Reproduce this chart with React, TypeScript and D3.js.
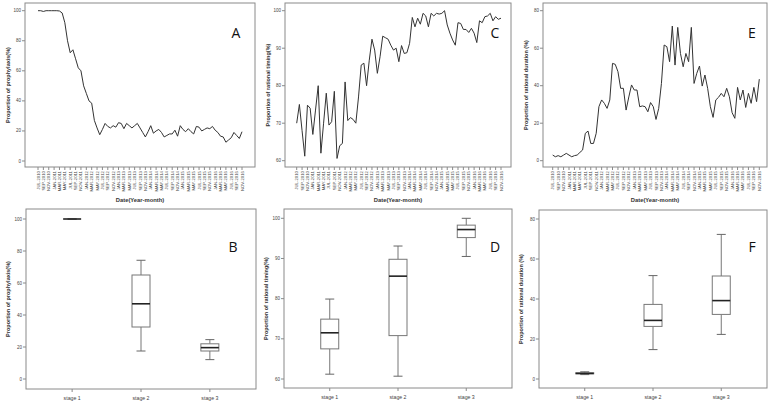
import React from 'react';
import * as d3 from 'd3';

const xTickLabels = ["JUL-2010","SEP-2010","NOV-2010","JAN-2011","MAR-2011","MAY-2011","JUL-2011","SEP-2011","NOV-2011","JAN-2012","MAR-2012","MAY-2012","JUL-2012","SEP-2012","NOV-2012","JAN-2013","MAR-2013","MAY-2013","JUL-2013","SEP-2013","NOV-2013","JAN-2014","MAR-2014","MAY-2014","JUL-2014","SEP-2014","NOV-2014","JAN-2015","MAR-2015","MAY-2015","JUL-2015","SEP-2015","NOV-2015","JAN-2016","MAR-2016","MAY-2016","JUL-2016","SEP-2016","NOV-2016"];

const prophylaxis = [100,100,99.5,100,100,100,100,100,99.8,98.5,
  92,80,72,74,68,62,60,50,45,40,
  38.5,27,22,17.5,21,25,23,22,23.5,22.5,
  25.5,25,21.5,25,23.5,22,23.5,25,22,19,
  16,19.5,23.5,18.5,20,21,19,16,17,18,
  18,20.5,16.5,23.5,21,19.5,21.5,19.5,18,23,
  22.5,20,21,22,21.5,23,20.5,19,16.5,16,
  12.5,14,15.5,19,17,15,19.5];

const timing = [70,75,68,61.2,74.8,74,67,73.5,80,62,
  70,78,69.5,70.4,78.5,60.6,64,64.6,81,70.7,
  71.5,71,70,77,85.5,86,80,86.8,92.4,89.5,
  83.3,87.7,93.2,92.8,92.4,90.8,89.5,90,86.4,90.7,
  88.6,88.8,91.3,98.2,95.7,98,96.4,99.3,98.6,95.7,
  99.3,98.6,99.3,99.1,99.3,100,96.2,94,92.2,90.8,
  96.8,96.6,95,95,94.2,95.3,94,91.5,97.3,96.8,
  98.4,98.6,99.3,97.3,98.4,97.7,98];

const duration = [3,2.1,2.7,2.1,3,3.9,3,2.1,2.7,3,
  4.4,5.7,14.6,15.8,9.2,9.2,14.6,28.8,32.4,30.6,
  27.9,32.4,51.9,51.4,47.5,38.6,38.6,27,34,40.4,
  37.7,37.7,28.8,29.2,28.8,26.1,31,28.8,22,27.9,
  41.2,61.7,60.8,52.8,71.8,51,71.1,57.2,50.1,57.2,
  52.8,71.1,41.2,46.6,50.5,39.8,45.7,38.6,28.8,23.1,
  32.4,33.8,35.9,34.1,38.6,34.1,25.6,22.6,39.1,32.4,
  37.7,28.4,35.9,30.6,39.1,31.5,43.5];

const stages = ["stage 1", "stage 2", "stage 3"];
// [min, q1, median, q3, max]
const prophylaxisBox = [[100,100,100,100,100],[17.5,32.5,47,65,74.2],[12.1,17.5,19.6,22,24.6]];
const timingBox = [[61.2,67.5,71.5,74.9,79.9],[60.7,70.8,85.6,89.8,93.1],[90.5,95.2,97.2,98.3,100]];
const durationBox = [[2.2,2.6,2.8,3.1,3.6],[14.7,26.3,29.3,37.3,51.7],[22.3,32.3,39.2,51.5,72.3]];

const FONT = "'Liberation Sans', Arial, sans-serif";
const FRAME = "#8a8a8a";
const TXT = "#444";

type LineProps = {
  frame: [number, number, number, number];
  dataX: [number, number];
  yDom: [number, number];
  yPx: [number, number];
  yTicks: number[];
  values: number[];
  yTitle: string;
  letter: string;
  letterPos: [number, number];
};

function LinePanel(p: LineProps) {
  const [l, t, r, b] = p.frame;
  const x = d3.scaleLinear().domain([0, p.values.length - 1]).range(p.dataX);
  const y = d3.scaleLinear().domain(p.yDom).range(p.yPx);
  const line = d3.line<number>().x((_, i) => x(i)).y(v => y(v));
  return (
    <g>
      <rect x={l} y={t} width={r - l} height={b - t} fill="white" stroke={FRAME} strokeWidth={1} />
      {p.yTicks.map(v => (
        <g key={v}>
          <line x1={l - 3} x2={l} y1={y(v)} y2={y(v)} stroke={FRAME} />
          <text x={l - 4} y={y(v) + 1.5} fontSize={4.5} textAnchor="end" fill={TXT} fontFamily={FONT}>{v}</text>
        </g>
      ))}
      {xTickLabels.map((lab, k) => {
        const xx = x(k * 2);
        return (
          <g key={lab}>
            <line x1={xx} x2={xx} y1={b} y2={b + 3} stroke={FRAME} />
            <text transform={`translate(${xx + 1.5},${b + 4}) rotate(-90)`} fontSize={4.3} textAnchor="end" fill={TXT} fontFamily={FONT}>{lab}</text>
          </g>
        );
      })}
      <path d={line(p.values) || ''} fill="none" stroke="#333" strokeWidth={1} />
      <text transform={`translate(${l - 15},${(t + b) / 2}) rotate(-90)`} fontSize={5.5} fontWeight="bold" textAnchor="middle" fill="#333" fontFamily={FONT}>{p.yTitle}</text>
      <text x={(l + r) / 2} y={b + 35} fontSize={5.8} fontWeight="bold" textAnchor="middle" fill="#333" fontFamily={FONT}>Date(Year-month)</text>
      <text x={p.letterPos[0]} y={p.letterPos[1]} fontSize={14} textAnchor="middle" fill="#111" fontFamily="'Open Sans', sans-serif">{p.letter}</text>
    </g>
  );
}

type BoxProps = {
  frame: [number, number, number, number];
  yDom: [number, number];
  yPx: [number, number];
  yTicks: number[];
  boxes: number[][];
  yTitle: string;
  letter: string;
  letterPos: [number, number];
};

function BoxPanel(p: BoxProps) {
  const [l, t, r, b] = p.frame;
  const x = d3.scalePoint<string>().domain(stages).range([l, r]).padding(0.67);
  const y = d3.scaleLinear().domain(p.yDom).range(p.yPx);
  const bw = 18, cw = 9;
  return (
    <g>
      <rect x={l} y={t} width={r - l} height={b - t} fill="white" stroke={FRAME} strokeWidth={1} />
      {p.yTicks.map(v => (
        <g key={v}>
          <line x1={l - 3} x2={l} y1={y(v)} y2={y(v)} stroke={FRAME} />
          <text x={l - 4} y={y(v) + 1.5} fontSize={4.5} textAnchor="end" fill={TXT} fontFamily={FONT}>{v}</text>
        </g>
      ))}
      {stages.map((s, i) => {
        const cx = x(s) as number;
        const [mn, q1, md, q3, mx] = p.boxes[i];
        return (
          <g key={s}>
            <line x1={cx} x2={cx} y1={b} y2={b + 3} stroke={FRAME} />
            <text x={cx} y={b + 11} fontSize={5.2} textAnchor="middle" fill={TXT} fontFamily={FONT}>{s}</text>
            <line x1={cx} x2={cx} y1={y(mx)} y2={y(q3)} stroke="#777" />
            <line x1={cx} x2={cx} y1={y(q1)} y2={y(mn)} stroke="#777" />
            <line x1={cx - cw / 2} x2={cx + cw / 2} y1={y(mx)} y2={y(mx)} stroke="#666" />
            <line x1={cx - cw / 2} x2={cx + cw / 2} y1={y(mn)} y2={y(mn)} stroke="#666" />
            <rect x={cx - bw / 2} y={y(q3)} width={bw} height={Math.max(0, y(q1) - y(q3))} fill="white" stroke="#777" />
            <line x1={cx - bw / 2} x2={cx + bw / 2} y1={y(md)} y2={y(md)} stroke="#222" strokeWidth={1.6} />
          </g>
        );
      })}
      <text transform={`translate(${l - 16},${(t + b) / 2}) rotate(-90)`} fontSize={5.5} fontWeight="bold" textAnchor="middle" fill="#333" fontFamily={FONT}>{p.yTitle}</text>
      <text x={p.letterPos[0]} y={p.letterPos[1]} fontSize={14} textAnchor="middle" fill="#111" fontFamily="'Open Sans', sans-serif">{p.letter}</text>
    </g>
  );
}

export default function App() {
  return (
    <svg width={775} height={415} style={{ position: 'absolute', left: 0, top: 0, background: 'white' }}>
      <rect width={775} height={415} fill="white" />
      <LinePanel frame={[25, 3, 255, 167]} dataX={[38, 242]} yDom={[0, 100]} yPx={[161, 10.7]} yTicks={[0, 20, 40, 60, 80, 100]}
        values={prophylaxis} yTitle="Proportion of  prophylaxis(%)" letter="A" letterPos={[236, 38]} />
      <LinePanel frame={[285, 3, 511, 167]} dataX={[296.7, 501]} yDom={[60, 100]} yPx={[160.7, 10.7]} yTicks={[60, 70, 80, 90, 100]}
        values={timing} yTitle="Proportion of rational timing(%)" letter="C" letterPos={[495, 38]} />
      <LinePanel frame={[543, 3, 767, 167]} dataX={[552.7, 759.3]} yDom={[0, 80]} yPx={[160.7, 10.7]} yTicks={[0, 20, 40, 60, 80]}
        values={duration} yTitle="Proportion of rational duration (%)" letter="E" letterPos={[752, 38]} />
      <BoxPanel frame={[26, 209, 256, 389]} yDom={[0, 100]} yPx={[379, 219]} yTicks={[0, 20, 40, 60, 80, 100]}
        boxes={prophylaxisBox} yTitle="Proportion of  prophylaxis(%)" letter="B" letterPos={[233, 252]} />
      <BoxPanel frame={[284, 209, 512, 388]} yDom={[60, 100]} yPx={[379, 218.3]} yTicks={[60, 70, 80, 90, 100]}
        boxes={timingBox} yTitle="Proportion of rational timing(%)" letter="D" letterPos={[495, 252]} />
      <BoxPanel frame={[539, 210, 767, 388]} yDom={[0, 80]} yPx={[379, 219]} yTicks={[0, 20, 40, 60, 80]}
        boxes={durationBox} yTitle="Proportion of rational duration (%)" letter="F" letterPos={[752, 252]} />
    </svg>
  );
}
